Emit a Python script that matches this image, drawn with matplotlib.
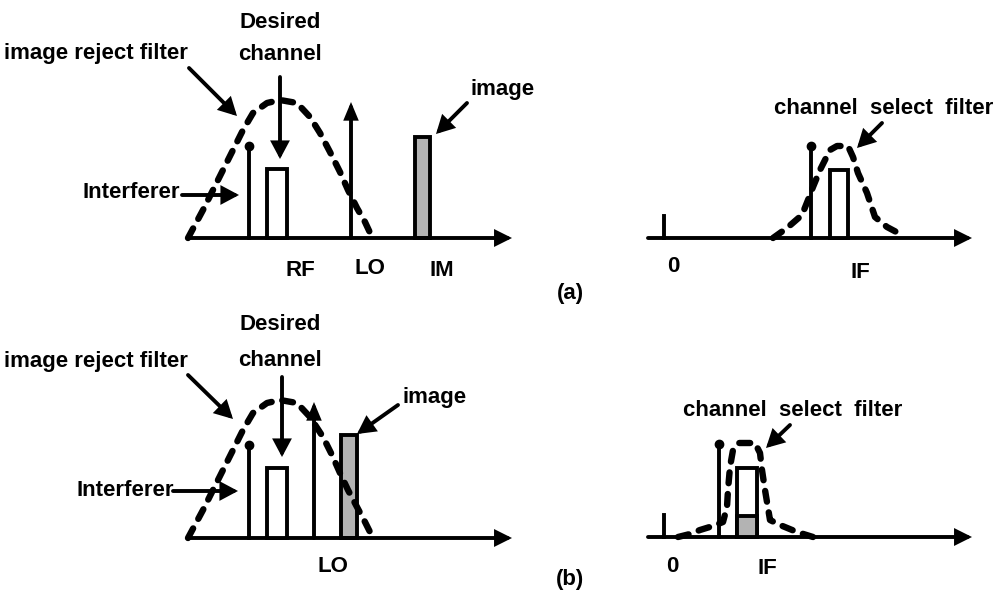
import matplotlib
matplotlib.use('Agg')
import matplotlib.pyplot as plt
from matplotlib.patches import Rectangle

# ---------- (a) ----------
rf_axis_a = [(188, 238), (512, 238)]
if_axis_a = [(648, 238), (972, 238)]

irf_a_x = [188, 203, 213, 223, 233, 243, 253, 267, 280, 297, 310, 320, 330, 340, 348, 357, 365, 372]
irf_a_y = [238, 210, 190, 170, 150, 130, 113, 103, 100, 103, 117, 133, 152, 172, 190, 208, 222, 237]

csf_a_x = [773, 787, 802, 808, 813, 820, 830, 837, 848, 853, 858, 867, 875, 887, 902]
csf_a_y = [238, 228, 215, 200, 187, 170, 150, 146, 146, 157, 173, 193, 217, 227, 235]

interf_a = [(249, 146), (811, 146)]          # x, top
desired_a = [(267, 287, 169), (830, 848, 170)]  # left, right, top
lo_a = (351, 102)
image_a = (415, 430, 137)
zero_a = (664, 216)

# ---------- (b) ----------
rf_axis_b = [(188, 538), (512, 538)]
if_axis_b = [(648, 537), (972, 537)]

irf_b_x = [188, 203, 213, 223, 233, 243, 253, 267, 280, 297, 310, 323, 332, 340, 348, 357, 365, 372]
irf_b_y = [538, 510, 490, 470, 450, 430, 413, 403, 400, 403, 417, 437, 455, 473, 490, 507, 522, 536]

csf_b_x = [678, 690, 700, 713, 723, 727, 728, 730, 733, 738, 755, 760, 762, 765, 770, 780, 797, 813]
csf_b_y = [537, 534, 530, 526, 522, 507, 490, 467, 450, 443, 443, 453, 470, 490, 520, 525, 532, 537]

interf_b = [(249, 445), (719, 444)]
desired_b = [(267, 287, 468), (737, 757, 468)]
lo_b = (314, 402)
image_b = (341, 357, 435)
image_if_b = (737, 757, 516)
zero_b = (664, 515)

# text: (string, x, y, ha)
labels = [
    ("Desired", 280, 22, 'center'), ("channel", 280, 55, 'center'),
    ("image reject filter", 4, 53, 'left'), ("image", 503, 90, 'center'),
    ("Interferer", 82, 193, 'left'), ("RF", 300, 270, 'center'),
    ("LO", 370, 268, 'center'), ("IM", 442, 270, 'center'),
    ("(a)", 570, 293, 'center'),
    ("channel  select  filter", 884, 108, 'center'),
    ("0", 673, 267, 'center'), ("IF", 860, 272, 'center'),
    ("Desired", 280, 324, 'center'), ("channel", 280, 360, 'center'),
    ("image reject filter", 4, 362, 'left'), ("image", 435, 398, 'center'),
    ("Interferer", 77, 490, 'left'), ("LO", 333, 567, 'center'),
    ("(b)", 570, 580, 'center'),
    ("channel  select  filter", 793, 410, 'center'),
    ("0", 672, 567, 'center'), ("IF", 767, 568, 'center'),
]

# pointer arrows: (from, to)
pointers = [
    ((189, 68), (237, 116)), ((280, 77), (280, 159)), ((182, 195), (239, 195)),
    ((467, 103), (436, 134)), ((882, 123), (857, 148)),
    ((188, 375), (233, 419)), ((282, 377), (282, 457)), ((173, 491), (238, 491)),
    ((398, 405), (357, 434)), ((790, 425), (766, 448)),
]

fig = plt.figure(figsize=(10, 5.94), dpi=100)
ax = fig.add_axes([0, 0, 1, 1])
ax.set_xlim(0, 1000)
ax.set_ylim(594, 0)
ax.axis('off')

LW = 2.8


def arrow(p0, p1, lw=LW, scale=15, hw=0.32):
    style = '-|>,head_length=0.6,head_width=%.2f' % hw
    ax.annotate('', xy=p1, xytext=p0,
                arrowprops=dict(arrowstyle=style, lw=lw, color='black',
                                mutation_scale=scale, shrinkA=0, shrinkB=0,
                                joinstyle='miter'))


for a in [rf_axis_a, if_axis_a, rf_axis_b, if_axis_b]:
    arrow(a[0], a[1], scale=14, hw=0.3)

for xs, ys in [(irf_a_x, irf_a_y), (csf_a_x, csf_a_y), (irf_b_x, irf_b_y), (csf_b_x, csf_b_y)]:
    ax.plot(xs, ys, color='black', lw=4.6, dashes=(1.7, 1.7),
            dash_capstyle='round', solid_joinstyle='round', zorder=3)

for (x, top), base in zip(interf_a + interf_b, [238, 238, 538, 537]):
    ax.plot([x, x], [base, top], color='black', lw=LW, zorder=4)
    ax.plot(x, top, 'o', color='black', ms=6, zorder=4)

for (l, r, top), base in zip(desired_a + desired_b, [238, 238, 538, 537]):
    ax.add_patch(Rectangle((l, top), r - l, base - top, facecolor='white',
                           edgecolor='black', lw=LW, zorder=4))

for (l, r, top), base in [(image_a, 238), (image_b, 538)]:
    ax.add_patch(Rectangle((l, top), r - l, base - top, facecolor='#b3b3b3',
                           edgecolor='black', lw=LW, zorder=2))

l, r, top = image_if_b
ax.add_patch(Rectangle((l, top), r - l, 537 - top, facecolor='#b3b3b3',
                       edgecolor='black', lw=LW, zorder=5))

arrow((lo_a[0], 238), (lo_a[0], lo_a[1]), scale=14, hw=0.25)
arrow((lo_b[0], 538), (lo_b[0], lo_b[1]), scale=14, hw=0.25)

for (x, top), base in [(zero_a, 238), (zero_b, 537)]:
    ax.plot([x, x], [base, top], color='black', lw=LW)

for p0, p1 in pointers:
    arrow(p0, p1)

for s, x, y, ha in labels:
    ax.text(x, y, s, ha=ha, va='center', fontsize=16, fontweight='bold',
            family='Liberation Sans', color='black')

fig.savefig('out.png', dpi=100, facecolor='white')
